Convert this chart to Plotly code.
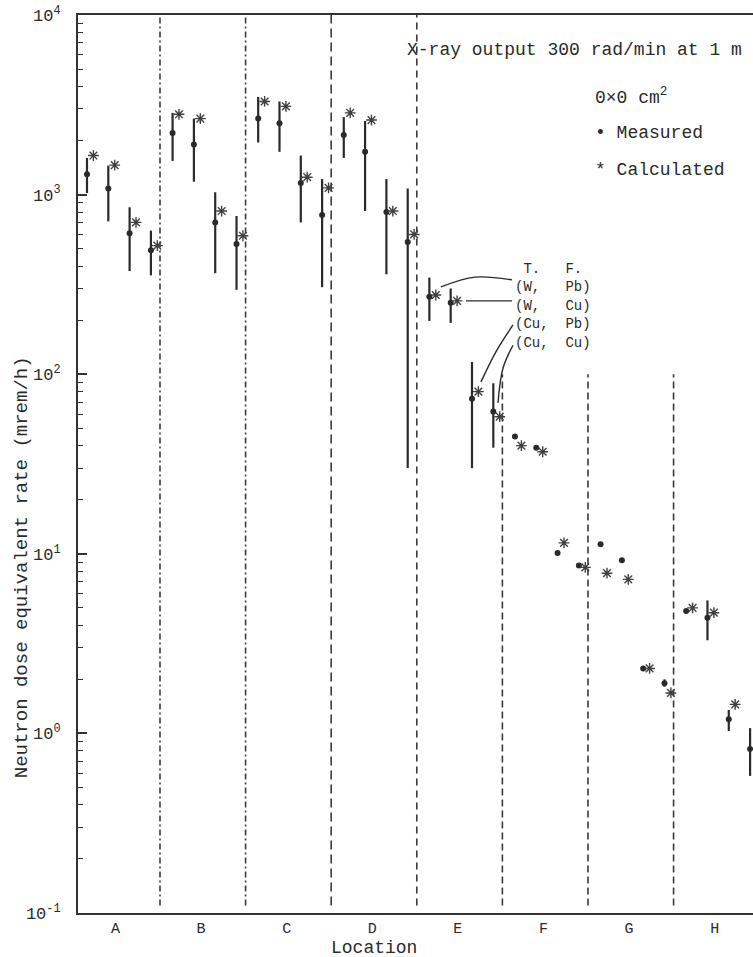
import plotly.graph_objects as go

# Locations along the x axis and the four target/flattening-filter combinations
locations = ["A", "B", "C", "D", "E", "F", "G", "H"]
configs = ["(W,   Pb)", "(W,   Cu)", "(Cu,  Pb)", "(Cu,  Cu)"]

# Measured neutron dose equivalent rate (mrem/h), 4 configurations per location
measured = [
    1300, 1080, 610, 490,      # A
    2200, 1900, 700, 530,      # B
    2650, 2500, 1160, 770,     # C
    2150, 1730, 800, 545,      # D
    270, 250, 73, 62,          # E
    45, 39, 10.1, 8.6,         # F
    11.3, 9.2, 2.3, 1.9,       # G
    4.8, 4.4, 1.2, 0.82,       # H
]
# Upper / lower ends of the measurement ranges (None = no range drawn)
upper = [
    1600, 1450, 850, 630,
    2850, 2650, 1030, 760,
    3500, 3300, 1650, 1220,
    2700, 2570, 1220, 1080,
    345, 300, 117, 89,
    None, None, None, None,
    None, None, None, 2.0,
    None, 5.5, 1.35, 1.07,
]
lower = [
    1020, 710, 375, 355,
    1540, 1180, 365, 295,
    1950, 1730, 700, 305,
    1600, 810, 360, 30,
    198, 193, 30, 39,
    None, None, None, None,
    None, None, None, 1.82,
    None, 3.3, 1.03, 0.58,
]
# Calculated values
calculated = [
    1650, 1460, 700, 520,
    2800, 2650, 810, 590,
    3300, 3100, 1250, 1090,
    2850, 2600, 810, 600,
    276, 256, 80, 58,
    40, 37, 11.5, 8.4,
    7.8, 7.2, 2.3, 1.68,
    5.0, 4.7, 1.45, None,
]

# y tick labels
y_tickvals = [0.1, 1, 10, 100, 1000, 10000]
y_ticktext = ["10<sup>-1</sup>", "10<sup>0</sup>", "10<sup>1</sup>",
              "10<sup>2</sup>", "10<sup>3</sup>", "10<sup>4</sup>"]

FONT = "Liberation Mono, Courier New, monospace"
INK = "#2a2a2a"
STAR = "#404040"

# x position of each measurement: location index + offset for configuration
xs = [i + 0.147 + 0.249 * j for i in range(len(locations)) for j in range(len(configs))]
xs_calc = [x + 0.075 for x in xs]

err_plus = [(u - m) if u is not None else 0 for m, u in zip(measured, upper)]
err_minus = [(m - l) if l is not None else 0 for m, l in zip(measured, lower)]

fig = go.Figure()

# Location separators
ymin_sep = 0.11
separators = [
    (1, 10000, "6px,3px,2px,3px"),
    (2, 10000, "6px,3px,2px,3px"),
    (3, 10000, "9px,5px"),
    (4, 10000, "7px,5px"),
    (5, 100, "7px,4px"),
    (6, 100, "7px,4px"),
    (7, 100, "7px,4px"),
]
for xk, ytop, dash in separators:
    fig.add_trace(go.Scatter(
        x=[xk, xk], y=[ymin_sep, ytop], mode="lines",
        line=dict(color="#3a3a3a", width=1.6, dash=dash),
        hoverinfo="skip", showlegend=False,
    ))

# Leader lines from the configuration labels to the E points
leaders = [
    [(5.112, 335), (4.68, 347), (4.283, 306)],
    [(5.112, 256), (4.575, 256)],
    [(5.124, 188), (4.937, 136.5), (4.75, 90.6)],
    [(5.124, 145), (5.007, 108), (4.949, 69.2)],
]
for pts in leaders:
    fig.add_trace(go.Scatter(
        x=[p[0] for p in pts], y=[p[1] for p in pts], mode="lines",
        line=dict(color=INK, width=1.4, shape="spline"),
        hoverinfo="skip", showlegend=False,
    ))

# Measured values with their ranges
fig.add_trace(go.Scatter(
    x=xs, y=measured, mode="markers", name="Measured",
    marker=dict(symbol="circle", size=6, color=INK),
    error_y=dict(type="data", symmetric=False, array=err_plus,
                 arrayminus=err_minus, width=0, thickness=2.2, color=INK),
    showlegend=False,
))

# Calculated values
fig.add_trace(go.Scatter(
    x=xs_calc, y=calculated, mode="markers", name="Calculated",
    marker=dict(symbol="asterisk-open", size=9, color=STAR,
                line=dict(width=1.4, color=STAR)),
    showlegend=False,
))

minor_vals = [m * 10 ** e for e in range(-1, 4) for m in range(2, 10)]

fig.update_layout(
    width=753, height=957,
    margin=dict(l=78, r=0, t=15, b=44),
    paper_bgcolor="white", plot_bgcolor="white",
    font=dict(family=FONT, color=INK, size=16),
    xaxis=dict(
        range=[0.042, 7.928], tickvals=[i + 0.48 for i in range(len(locations))],
        ticktext=locations, ticks="", showgrid=False, zeroline=False,
        showline=True, mirror=True, linewidth=2, linecolor="#333333",
        tickfont=dict(size=15), ticklabelstandoff=0,
    ),
    yaxis=dict(
        type="log", range=[-1, 4], tickvals=y_tickvals, ticktext=y_ticktext,
        ticks="inside", ticklen=9, tickwidth=1.6, tickcolor="#333333",
        minor=dict(ticks="inside", ticklen=5, tickwidth=1.3,
                   tickcolor="#333333", tickvals=minor_vals),
        showgrid=False, zeroline=False, showline=True, linewidth=2,
        linecolor="#333333", tickfont=dict(size=17), ticklabelstandoff=12,
    ),
)

annotations = [
    dict(text="X-ray output 300 rad/min at 1 m", x=0.4844, y=0.961,
         xanchor="left", yanchor="middle", font=dict(size=18)),
    dict(text="0×0 cm<sup>2</sup>", x=0.763, y=0.9087,
         xanchor="left", yanchor="middle", font=dict(size=18)),
    dict(text="• Measured", x=0.763, y=0.8686,
         xanchor="left", yanchor="middle", font=dict(size=18)),
    dict(text="* Calculated", x=0.763, y=0.8274,
         xanchor="left", yanchor="middle", font=dict(size=18)),
    dict(text="Location", x=0.4385, y=-0.0385,
         xanchor="center", yanchor="middle", font=dict(size=18)),
    dict(text="Neutron dose equivalent rate (mrem/h)", x=-0.083, y=0.385,
         textangle=-90, xanchor="center", yanchor="middle", font=dict(size=19)),
]
for a in annotations:
    a.update(xref="paper", yref="paper", showarrow=False)
    fig.add_annotation(**a)

# Configuration key next to the E points (paper coords)
key_rows = [" T.   F."] + configs
key_y = [0.7171, 0.6966, 0.6760, 0.6554, 0.6347]
for txt, yy in zip(key_rows, key_y):
    fig.add_annotation(text=txt.replace(" ", "&nbsp;"), x=0.6444, y=yy,
                       xref="paper", yref="paper", xanchor="left",
                       yanchor="middle", showarrow=False, font=dict(size=14))

fig.write_html("out.html")
